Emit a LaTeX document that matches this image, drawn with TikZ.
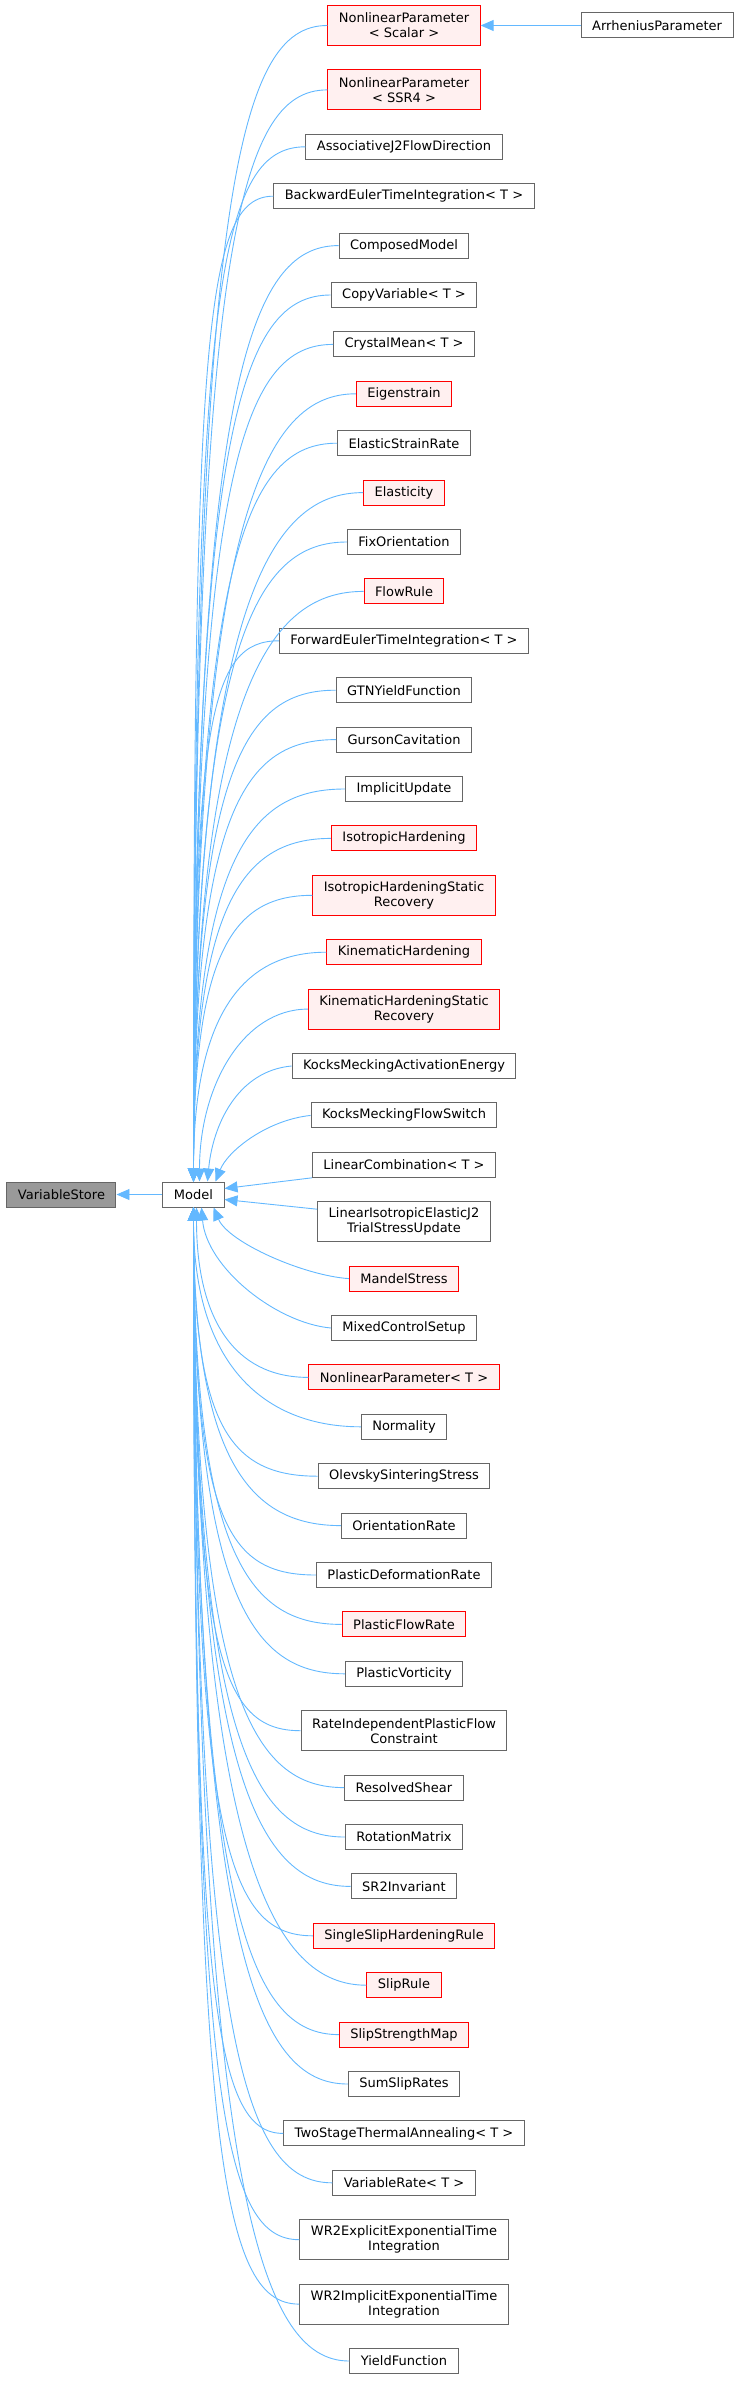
\documentclass[tikz,border=0pt]{standalone}
\usepackage{fontspec}
\setmainfont{DejaVu Sans}
\usetikzlibrary{positioning,arrows.meta,calc}

\definecolor{edgeblue}{HTML}{63B8FF}
\definecolor{boxgray}{HTML}{666666}
\definecolor{boxred}{HTML}{FF0000}
\definecolor{redfill}{HTML}{FFF0F0}
\definecolor{storegray}{HTML}{999999}

\begin{document}
\begin{tikzpicture}[
        x=1pt, y=1pt,
        node distance=23.4pt and 46pt,
        >={Triangle[length=13pt, width=11pt]},
        cls/.style={rectangle, draw=boxgray, fill=white, line width=1pt, font=\fontsize{13pt}{15pt}\selectfont, inner xsep=11pt, inner ysep=1pt, minimum height=25pt, align=center},
        redcls/.style={cls, draw=boxred, fill=redfill},
        twoline/.style={minimum height=40pt},
        edge/.style={<-, draw=edgeblue, line width=0.9pt}
      ]

      \useasboundingbox (0,0) rectangle (739,-2381);

      % base classes
      \node[cls] (model) at (193.5,-1194.5) {Model};
      \node[cls, fill=storegray, left=of model] (varstore) {VariableStore};

      % derived classes, top to bottom
      \node[redcls, twoline] (nlpscalar) at (404,-25.5) {NonlinearParameter\\< Scalar >};
      \node[cls, right=100pt of nlpscalar] (arrhenius) {ArrheniusParameter};
      \node[redcls, twoline, below=of nlpscalar] (nlpssr4) {NonlinearParameter\\< SSR4 >};
      \node[cls, below=of nlpssr4] (assocj2) {AssociativeJ2FlowDirection};
      \node[cls, below=of assocj2] (backeuler) {BackwardEulerTimeIntegration< T >};
      \node[cls, below=of backeuler] (composed) {ComposedModel};
      \node[cls, below=of composed] (copyvar) {CopyVariable< T >};
      \node[cls, below=of copyvar] (crystalmean) {CrystalMean< T >};
      \node[redcls, below=of crystalmean] (eigen) {Eigenstrain};
      \node[cls, below=of eigen] (elstrainrate) {ElasticStrainRate};
      \node[redcls, below=of elstrainrate] (elasticity) {Elasticity};
      \node[cls, below=of elasticity] (fixorient) {FixOrientation};
      \node[redcls, below=of fixorient] (flowrule) {FlowRule};
      \node[cls, below=of flowrule] (foreuler) {ForwardEulerTimeIntegration< T >};
      \node[cls, below=of foreuler] (gtn) {GTNYieldFunction};
      \node[cls, below=of gtn] (gurson) {GursonCavitation};
      \node[cls, below=of gurson] (implicit) {ImplicitUpdate};
      \node[redcls, below=of implicit] (isohard) {IsotropicHardening};
      \node[redcls, twoline, below=of isohard] (isohardsr) {IsotropicHardeningStatic\\Recovery};
      \node[redcls, below=of isohardsr] (kinhard) {KinematicHardening};
      \node[redcls, twoline, below=of kinhard] (kinhardsr) {KinematicHardeningStatic\\Recovery};
      \node[cls, below=of kinhardsr] (kmenergy) {KocksMeckingActivationEnergy};
      \node[cls, below=of kmenergy] (kmswitch) {KocksMeckingFlowSwitch};
      \node[cls, below=of kmswitch] (lincomb) {LinearCombination< T >};
      \node[cls, twoline, below=of lincomb] (linisoj2) {LinearIsotropicElasticJ2\\TrialStressUpdate};
      \node[redcls, below=of linisoj2] (mandel) {MandelStress};
      \node[cls, below=of mandel] (mixedctrl) {MixedControlSetup};
      \node[redcls, below=of mixedctrl] (nlpt) {NonlinearParameter< T >};
      \node[cls, below=of nlpt] (normality) {Normality};
      \node[cls, below=of normality] (olevsky) {OlevskySinteringStress};
      \node[cls, below=of olevsky] (orientrate) {OrientationRate};
      \node[cls, below=of orientrate] (plasdefrate) {PlasticDeformationRate};
      \node[redcls, below=of plasdefrate] (plasflowrate) {PlasticFlowRate};
      \node[cls, below=of plasflowrate] (plasvort) {PlasticVorticity};
      \node[cls, twoline, below=of plasvort] (rateindep) {RateIndependentPlasticFlow\\Constraint};
      \node[cls, below=of rateindep] (resshear) {ResolvedShear};
      \node[cls, below=of resshear] (rotmat) {RotationMatrix};
      \node[cls, below=of rotmat] (sr2inv) {SR2Invariant};
      \node[redcls, below=of sr2inv] (singleslip) {SingleSlipHardeningRule};
      \node[redcls, below=of singleslip] (sliprule) {SlipRule};
      \node[redcls, below=of sliprule] (slipstrength) {SlipStrengthMap};
      \node[cls, below=of slipstrength] (sumslip) {SumSlipRates};
      \node[cls, below=of sumslip] (twostage) {TwoStageThermalAnnealing< T >};
      \node[cls, below=of twostage] (varrate) {VariableRate< T >};
      \node[cls, twoline, below=of varrate] (wr2explicit) {WR2ExplicitExponentialTime\\Integration};
      \node[cls, twoline, below=of wr2explicit] (wr2implicit) {WR2ImplicitExponentialTime\\Integration};
      \node[cls, below=of wr2implicit] (yieldfn) {YieldFunction};

      % inheritance arrows
      \draw[edge] (varstore) -- (model);
      \draw[edge] (nlpscalar) -- (arrhenius);

      \draw[edge] (model.north) .. controls ($(model.north)!.85!(model.north |- nlpscalar.west)$) and ([xshift=-90pt]nlpscalar.west) .. (nlpscalar.west);
      \draw[edge] (model.north) .. controls ($(model.north)!.85!(model.north |- nlpssr4.west)$) and ([xshift=-90pt]nlpssr4.west) .. (nlpssr4.west);
      \draw[edge] (model.north) .. controls ($(model.north)!.85!(model.north |- assocj2.west)$) and ([xshift=-90pt]assocj2.west) .. (assocj2.west);
      \draw[edge] (model.north) .. controls ($(model.north)!.85!(model.north |- backeuler.west)$) and ([xshift=-70pt]backeuler.west) .. (backeuler.west);
      \draw[edge] (model.north) .. controls ($(model.north)!.85!(model.north |- composed.west)$) and ([xshift=-90pt]composed.west) .. (composed.west);
      \draw[edge] (model.north) .. controls ($(model.north)!.85!(model.north |- copyvar.west)$) and ([xshift=-90pt]copyvar.west) .. (copyvar.west);
      \draw[edge] (model.north) .. controls ($(model.north)!.85!(model.north |- crystalmean.west)$) and ([xshift=-90pt]crystalmean.west) .. (crystalmean.west);
      \draw[edge] (model.north) .. controls ($(model.north)!.85!(model.north |- eigen.west)$) and ([xshift=-90pt]eigen.west) .. (eigen.west);
      \draw[edge] (model.north) .. controls ($(model.north)!.85!(model.north |- elstrainrate.west)$) and ([xshift=-90pt]elstrainrate.west) .. (elstrainrate.west);
      \draw[edge] (model.north) .. controls ($(model.north)!.85!(model.north |- elasticity.west)$) and ([xshift=-90pt]elasticity.west) .. (elasticity.west);
      \draw[edge] (model.north) .. controls ($(model.north)!.85!(model.north |- fixorient.west)$) and ([xshift=-90pt]fixorient.west) .. (fixorient.west);
      \draw[edge] (model.north) .. controls ($(model.north)!.85!(model.north |- flowrule.west)$) and ([xshift=-90pt]flowrule.west) .. (flowrule.west);
      \draw[edge] (model.north) .. controls ($(model.north)!.85!(model.north |- foreuler.west)$) and ([xshift=-70pt]foreuler.west) .. (foreuler.west);
      \draw[edge] (model.north) .. controls ($(model.north)!.85!(model.north |- gtn.west)$) and ([xshift=-90pt]gtn.west) .. (gtn.west);
      \draw[edge] (model.north) .. controls ($(model.north)!.85!(model.north |- gurson.west)$) and ([xshift=-90pt]gurson.west) .. (gurson.west);
      \draw[edge] (model.north) .. controls ($(model.north)!.85!(model.north |- implicit.west)$) and ([xshift=-90pt]implicit.west) .. (implicit.west);
      \draw[edge] (model.north) .. controls ($(model.north)!.8!(model.north |- isohard.west)$) and ([xshift=-90pt]isohard.west) .. (isohard.west);
      \draw[edge] (model.north) .. controls ($(model.north)!.8!(model.north |- isohardsr.west)$) and ([xshift=-80pt]isohardsr.west) .. (isohardsr.west);
      \draw[edge] (model.north) .. controls ($(model.north)!.75!(model.north |- kinhard.west)$) and ([xshift=-80pt]kinhard.west) .. (kinhard.west);
      \draw[edge] ([xshift=6pt]model.north) .. controls +(0,95) and +(-65,0) .. (kinhardsr.west);
      \draw[edge] ([xshift=14pt]model.north) .. controls +(5,55) and +(-55,-5) .. (kmenergy.west);
      \draw[edge] ([xshift=22pt]model.north) .. controls +(12,30) and +(-45,-5) .. (kmswitch.west);
      \draw[edge] ([yshift=6pt]model.east) -- (lincomb.south west);
      \draw[edge] ([yshift=-5pt]model.east) -- ([yshift=-8pt]linisoj2.north west);
      \draw[edge] ([xshift=20pt]model.south) .. controls +(15,-35) and +(-45,3) .. (mandel.west);
      \draw[edge] ([xshift=8pt]model.south) .. controls +(5,-60) and +(-55,5) .. (mixedctrl.west);
      \draw[edge] ([xshift=3pt]model.south) .. controls +(0,-110) and +(-75,0) .. (nlpt.west);
      \draw[edge] (model.south) .. controls ($(model.south)!.75!(model.south |- normality.west)$) and ([xshift=-90pt]normality.west) .. (normality.west);
      \draw[edge] (model.south) .. controls ($(model.south)!.8!(model.south |- olevsky.west)$) and ([xshift=-90pt]olevsky.west) .. (olevsky.west);
      \draw[edge] (model.south) .. controls ($(model.south)!.8!(model.south |- orientrate.west)$) and ([xshift=-90pt]orientrate.west) .. (orientrate.west);
      \draw[edge] (model.south) .. controls ($(model.south)!.85!(model.south |- plasdefrate.west)$) and ([xshift=-90pt]plasdefrate.west) .. (plasdefrate.west);
      \draw[edge] (model.south) .. controls ($(model.south)!.85!(model.south |- plasflowrate.west)$) and ([xshift=-90pt]plasflowrate.west) .. (plasflowrate.west);
      \draw[edge] (model.south) .. controls ($(model.south)!.85!(model.south |- plasvort.west)$) and ([xshift=-90pt]plasvort.west) .. (plasvort.west);
      \draw[edge] (model.south) .. controls ($(model.south)!.85!(model.south |- rateindep.west)$) and ([xshift=-80pt]rateindep.west) .. (rateindep.west);
      \draw[edge] (model.south) .. controls ($(model.south)!.85!(model.south |- resshear.west)$) and ([xshift=-90pt]resshear.west) .. (resshear.west);
      \draw[edge] (model.south) .. controls ($(model.south)!.85!(model.south |- rotmat.west)$) and ([xshift=-90pt]rotmat.west) .. (rotmat.west);
      \draw[edge] (model.south) .. controls ($(model.south)!.85!(model.south |- sr2inv.west)$) and ([xshift=-90pt]sr2inv.west) .. (sr2inv.west);
      \draw[edge] (model.south) .. controls ($(model.south)!.85!(model.south |- singleslip.west)$) and ([xshift=-90pt]singleslip.west) .. (singleslip.west);
      \draw[edge] (model.south) .. controls ($(model.south)!.85!(model.south |- sliprule.west)$) and ([xshift=-90pt]sliprule.west) .. (sliprule.west);
      \draw[edge] (model.south) .. controls ($(model.south)!.85!(model.south |- slipstrength.west)$) and ([xshift=-90pt]slipstrength.west) .. (slipstrength.west);
      \draw[edge] (model.south) .. controls ($(model.south)!.85!(model.south |- sumslip.west)$) and ([xshift=-90pt]sumslip.west) .. (sumslip.west);
      \draw[edge] (model.south) .. controls ($(model.south)!.85!(model.south |- twostage.west)$) and ([xshift=-70pt]twostage.west) .. (twostage.west);
      \draw[edge] (model.south) .. controls ($(model.south)!.85!(model.south |- varrate.west)$) and ([xshift=-90pt]varrate.west) .. (varrate.west);
      \draw[edge] (model.south) .. controls ($(model.south)!.85!(model.south |- wr2explicit.west)$) and ([xshift=-80pt]wr2explicit.west) .. (wr2explicit.west);
      \draw[edge] (model.south) .. controls ($(model.south)!.85!(model.south |- wr2implicit.west)$) and ([xshift=-80pt]wr2implicit.west) .. (wr2implicit.west);
      \draw[edge] (model.south) .. controls ($(model.south)!.85!(model.south |- yieldfn.west)$) and ([xshift=-90pt]yieldfn.west) .. (yieldfn.west);

    \end{tikzpicture}
\end{document}
